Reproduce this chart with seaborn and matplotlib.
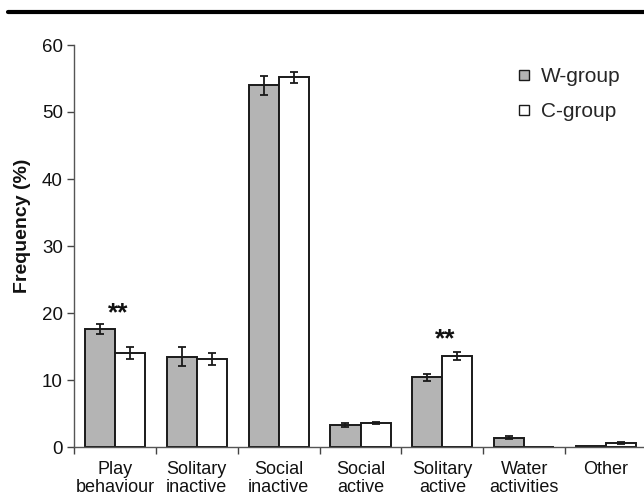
import numpy as np
import pandas as pd
import matplotlib
matplotlib.use("Agg")
import matplotlib.pyplot as plt
from matplotlib.lines import Line2D
import seaborn as sns

categories = ["Play\nbehaviour", "Solitary\ninactive", "Social\ninactive", "Social\nactive",
              "Solitary\nactive", "Water\nactivities", "Other"]
groups = ["W-group", "C-group"]
w_values = [17.6, 13.5, 54.0, 3.3, 10.4, 1.4, 0.15]
c_values = [14.1, 13.2, 55.2, 3.6, 13.6, 0.0, 0.6]
w_errors = [0.8, 1.4, 1.4, 0.3, 0.55, 0.2, 0.0]
c_errors = [0.9, 0.9, 0.8, 0.2, 0.55, 0.0, 0.2]
significant = ["Play\nbehaviour", "Solitary\nactive"]

sns.set_theme(style="white")
plt.rcParams["font.family"] = ["Liberation Sans", "DejaVu Sans"]

df = pd.DataFrame({
    "category": categories * 2,
    "group": [groups[0]] * len(categories) + [groups[1]] * len(categories),
    "value": w_values + c_values,
    "err": w_errors + c_errors,
})

fig = plt.figure(figsize=(6.44, 4.94), dpi=100)
ax = fig.add_axes([74 / 644, 47 / 494, 573 / 644, 402 / 494])

palette = {"W-group": "#b4b4b4", "C-group": "#ffffff"}
sns.barplot(data=df, x="category", y="value", hue="group", order=categories,
            hue_order=groups, palette=palette, width=0.735, gap=0,
            edgecolor="#1a1a1a", linewidth=1.4, errorbar=None, legend=False, ax=ax)

# error bars at the centre of each drawn bar
bars = [p for p in ax.patches if p.get_width() > 0]
errs = w_errors + c_errors
vals = w_values + c_values
for p, v, e in zip(bars, vals, errs):
    xc = p.get_x() + p.get_width() / 2
    if e > 0:
        ax.errorbar(xc, v, yerr=e, fmt="none", ecolor="#1a1a1a", elinewidth=1.3,
                    capsize=2.6, capthick=1.3, zorder=5)

# significance marks
for cat, yv in zip(significant, [20.0, 16.0]):
    xi = categories.index(cat)
    ax.text(xi + 0.04, yv, "**", ha="center", va="center", fontsize=19, fontweight="bold",
            color="#111111")

ax.set_xlim(-0.5, len(categories) - 0.5)
ax.set_ylim(0, 60)
ax.set_yticks(np.arange(0, 61, 10))
ax.set_xticks(range(len(categories)))
ax.set_xticklabels(categories, fontsize=13, linespacing=1.05)
ax.set_xticks(np.arange(-0.5, len(categories), 1.0), minor=True)
ax.tick_params(axis="x", which="major", length=0, pad=10)
ax.tick_params(axis="x", which="minor", length=5, width=1, color="#444444",
               direction="out", bottom=True)
ax.tick_params(axis="y", which="major", length=5, width=1, color="#444444",
               direction="out", left=True, labelsize=13.5, pad=3)
for lab in ax.get_yticklabels() + ax.get_xticklabels():
    lab.set_color("#111111")

ax.set_xlabel("")
ax.set_ylabel("Frequency (%)", fontsize=14, fontweight="bold", color="#111111")
ax.yaxis.set_label_coords(-0.075, 0.55)

for side in ["top", "right"]:
    ax.spines[side].set_visible(False)
for side in ["left", "bottom"]:
    ax.spines[side].set_color("#555555")
    ax.spines[side].set_linewidth(1.0)

handles = [
    Line2D([], [], linestyle="none", marker="s", markersize=7.5, markerfacecolor="#b4b4b4",
           markeredgecolor="#1a1a1a", markeredgewidth=1.0),
    Line2D([], [], linestyle="none", marker="s", markersize=7.5, markerfacecolor="#ffffff",
           markeredgecolor="#1a1a1a", markeredgewidth=1.0),
]
ax.legend(handles, groups, loc="upper left", bbox_to_anchor=(0.76, 0.965), frameon=False,
          fontsize=15, handlelength=0.6, handletextpad=0.5, labelspacing=0.75,
          borderaxespad=0)

# rule across the top of the figure
fig.add_artist(Line2D([8 / 644, 1.0], [1 - 12 / 494, 1 - 12 / 494], color="black",
                      linewidth=3, transform=fig.transFigure))

fig.savefig("out.png", dpi=100)
